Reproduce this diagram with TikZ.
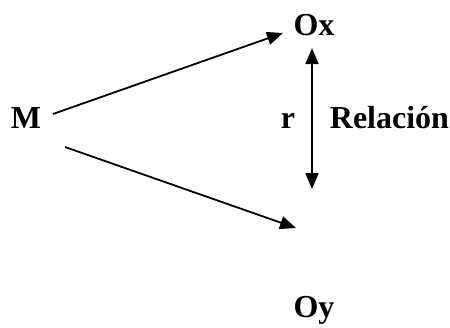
\documentclass[tikz,border=0pt]{standalone}
\usepackage{fontspec}
\setmainfont{Liberation Serif}
\usetikzlibrary{positioning, arrows.meta}

\begin{document}
\begin{tikzpicture}[x=1pt, y=-1pt, line width=1.8pt,
  lbl/.style={font=\fontsize{32}{38}\selectfont\bfseries, inner sep=0pt, anchor=base},
  arr/.style={-{Triangle[length=16pt, width=13pt]}}]
  \useasboundingbox (0,0) rectangle (450,327);
  \node[lbl] (M) at (26,128) {M};
  \node[lbl] (Ox) at (314,35) {Ox};
  \node[lbl] (Oy) at (314,317) {Oy};
  \node[lbl] (r) at (288,128) {r};
  \node[lbl, anchor=base west] (rel) at (329,128) {Relación};
  % arrow ends
  \coordinate (mup) at (53,114);
  \coordinate (mdown) at (65,147);
  \coordinate (oxin) at (283,33);
  \coordinate (oyin) at (296,228);
  \coordinate (rtop) at (312,48);
  \coordinate (rbot) at (312,189);
  \draw[arr] (mup) -- (oxin);
  \draw[arr] (mdown) -- (oyin);
  \draw[{Triangle[length=16pt, width=13pt]}-{Triangle[length=16pt, width=13pt]}] (rtop) -- (rbot);
\end{tikzpicture}
\end{document}
